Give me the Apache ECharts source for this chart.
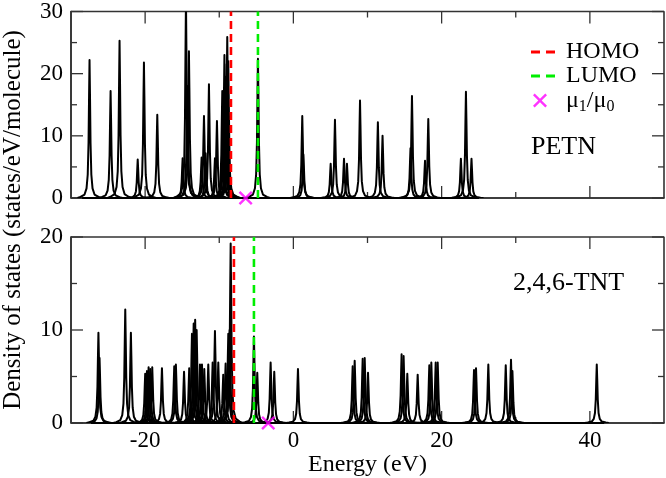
<!DOCTYPE html>
<html>
<head>
<meta charset="utf-8">
<script src="https://cdn.jsdelivr.net/npm/echarts@6/dist/echarts.min.js"></script>
<style>
html,body{margin:0;padding:0;background:#fff;}
#chart{width:666px;height:478px;}
</style>
</head>
<body>
<div id="chart"></div>
<script>
// ---- data ----
const energyMin = -30, energyMax = 50;
const xTickValues = [-20, 0, 20, 40];
const xMinorTickValues = [-10, 10, 30];
const topYTicks = [0, 10, 20, 30];
const topYMinor = [5, 15, 25];
const bottomYTicks = [0, 10, 20];
const bottomYMinor = [5, 15];

// PETN DOS peaks (eV, states/eV/molecule)
const petnPeakEnergy = [-27.5, -24.66, -23.45, -21.0, -20.16, -18.36, -14.94, -14.49, -14.3, -14.09,
  -12.38, -12.06, -11.84, -11.39, -10.58, -10.31, -9.59, -9.45, -9.30, -9.12, -9.0, -8.92, -8.78,
  -4.78, 1.2, 1.35, 5.03, 5.61, 6.83, 7.23, 8.99, 11.4, 12.03, 15.8, 16.0, 17.76, 18.2, 22.6, 23.28, 24.03];
const petnPeakHeight = [22.2, 17.2, 25.3, 6.2, 21.8, 13.4, 6.4, 32, 18, 23.6,
  6.5, 13.2, 7.2, 18.3, 6.4, 12.4, 17.2, 16.5, 23.0, 19.5, 21.5, 25.9, 22.0,
  22.4, 13.2, 7.0, 5.5, 12.6, 6.3, 5.5, 15.7, 12.2, 10.0, 8.0, 16.4, 6.0, 12.7, 6.3, 17.1, 6.3];

// 2,4,6-TNT DOS peaks
const tntPeakEnergy = [-26.3, -26.15, -22.68, -21.92, -19.99, -19.75, -19.53, -19.31, -19.04, -17.73,
  -16.07, -15.85, -14.75, -14.05, -13.68, -13.45, -13.25, -13.05, -12.6, -12.33, -12.02, -11.48,
  -10.89, -10.58, -10.13, -9.46, -9.14, -8.78, -8.6, -8.46, -5.32, -4.87, -3.07, -2.58, 0.62,
  8.0, 8.27, 9.35, 9.62, 10.07, 14.6, 14.87, 15.37, 16.77, 18.34, 18.61, 19.2, 19.47,
  24.37, 24.64, 26.3, 28.65, 29.36, 29.55, 40.93];
const tntPeakHeight = [9.7, 7.0, 12.2, 9.7, 5.3, 5.6, 6.0, 5.8, 6.0, 5.9,
  6.1, 6.3, 5.5, 5.9, 9.6, 10.7, 11.1, 10.0, 6.3, 6.3, 5.8, 6.3,
  6.5, 9.9, 6.5, 5.2, 6.4, 9.6, 10.0, 19.3, 9.3, 5.4, 6.5, 5.5, 5.8,
  6.1, 6.7, 6.9, 7.0, 5.4, 7.4, 7.2, 5.3, 5.2, 6.2, 6.5, 6.5, 6.5,
  5.7, 5.9, 6.3, 6.2, 6.8, 5.6, 6.3];

const homoEnergy = [-8.42, -8.02];   // PETN, TNT
const lumoEnergy = [-4.78, -5.32];
const muEnergy = [-6.44, -3.39];
const panelLabels = ['PETN', '2,4,6-TNT'];

// ---- chart ----
const FONT = 'Liberation Serif';
const frameColor = '#333';
const grids = [
  {left: 71, right: 2, top: 8, height: 190},
  {left: 71, right: 2, top: 237, height: 189}
];
const yMaxes = [30, 20];
const yMajors = [topYTicks, bottomYTicks];
const yMinors = [topYMinor, bottomYMinor];

const xAxes = [], yAxes = [];
grids.forEach((g, gi) => {
  xAxes.push({gridIndex: gi, type: 'value', min: energyMin, max: energyMax, splitLine: {show: false},
    position: 'bottom',
    axisLine: {show: true, onZero: false, lineStyle: {color: frameColor, width: 1.6}},
    axisTick: {show: false},
    axisLabel: {show: gi === 1, customValues: xTickValues, fontFamily: FONT, fontSize: 23, color: '#000', margin: 6},
    name: gi === 1 ? 'Energy (eV)' : '',
    nameLocation: 'middle', nameGap: 30,
    nameTextStyle: {fontFamily: FONT, fontSize: 24, color: '#000'}
  });
  yAxes.push({gridIndex: gi, type: 'value', min: 0, max: yMaxes[gi], splitLine: {show: false},
    position: 'left',
    axisLine: {show: true, onZero: false, lineStyle: {color: frameColor, width: 1.6}},
    axisTick: {show: false},
    axisLabel: {show: true, customValues: yMajors[gi], fontFamily: FONT, fontSize: 23, color: '#000', margin: 8}});
});

// peak glyph: shape of one broadened level, in pixels (style only)
const spikeShape = [[-9,0.008],[-5,0.025],[-3,0.07],[-1.8,0.17],[-1,0.4],[-0.45,0.75],[0,1],
  [0.45,0.75],[1,0.4],[1.8,0.17],[3,0.07],[5,0.025],[9,0.008]];
function renderSpike(params, api) {
  const e = api.value(0), h = api.value(1);
  const top = api.coord([e, h]);
  const base = api.coord([e, 0]);
  const H = base[1] - top[1];
  const pts = [[base[0] - 12, base[1]]];
  spikeShape.forEach(p => pts.push([base[0] + p[0], base[1] - p[1] * H]));
  pts.push([base[0] + 12, base[1]]);
  return {type: 'polyline', shape: {points: pts},
    style: {stroke: '#000', lineWidth: 2, fill: null, lineJoin: 'round'}};
}
// inward ticks on both sides, positioned through the axes' own scales
function xTickRenderer(gi) {
  return function (params, api) {
    const v = api.value(0), len = api.value(1);
    const b = api.coord([v, 0]);
    const t = api.coord([v, yMaxes[gi]]);
    const st = {stroke: frameColor, lineWidth: 1.3};
    return {type: 'group', children: [
      {type: 'line', shape: {x1: b[0], y1: b[1], x2: b[0], y2: b[1] - len}, style: st},
      {type: 'line', shape: {x1: t[0], y1: t[1], x2: t[0], y2: t[1] + len}, style: st}
    ]};
  };
}
function yTickRender(params, api) {
  const v = api.value(0), len = api.value(1);
  const l = api.coord([energyMin, v]);
  const r = api.coord([energyMax, v]);
  const st = {stroke: frameColor, lineWidth: 1.3};
  return {type: 'group', children: [
    {type: 'line', shape: {x1: l[0], y1: l[1], x2: l[0] + len, y2: l[1]}, style: st},
    {type: 'line', shape: {x1: r[0], y1: r[1], x2: r[0] - len, y2: r[1]}, style: st}
  ]};
}

const xPath = 'path://M0,1.2 L1.2,0 L5,3.8 L8.8,0 L10,1.2 L6.2,5 L10,8.8 L8.8,10 L5,6.2 L1.2,10 L0,8.8 L3.8,5 Z';
const dashPath = 'path://M0,0 L9,0 L9,3 L0,3 Z M15,0 L24,0 L24,3 L15,3 Z';

const series = [];
const peakSets = [[petnPeakEnergy, petnPeakHeight], [tntPeakEnergy, tntPeakHeight]];
grids.forEach((g, gi) => {
  const xi = gi, yi = gi;
  const E = peakSets[gi][0], Hh = peakSets[gi][1];
  const ym = yMaxes[gi];
  // plot frame
  series.push({
    type: 'line', xAxisIndex: xi, yAxisIndex: yi, silent: true, symbol: 'none', clip: false, z: 1,
    data: [[energyMin, 0], [energyMax, 0], [energyMax, ym], [energyMin, ym], [energyMin, 0]],
    lineStyle: {color: frameColor, width: 1.6}
  });
  series.push({
    type: 'custom', xAxisIndex: xi, yAxisIndex: yi, silent: true, clip: false, z: 1,
    renderItem: xTickRenderer(gi),
    data: xTickValues.map(v => [v, 12]).concat(xMinorTickValues.map(v => [v, 6]))
  });
  series.push({
    type: 'custom', xAxisIndex: xi, yAxisIndex: yi, silent: true, clip: false, z: 1,
    renderItem: yTickRender,
    data: yMajors[gi].map(v => [v, 12]).concat(yMinors[gi].map(v => [v, 6]))
  });
  series.push({
    type: 'line', xAxisIndex: xi, yAxisIndex: yi, silent: true, symbol: 'none', z: 3,
    data: [[Math.min(...E) - 1, 0], [Math.max(...E) + 1, 0]],
    lineStyle: {color: '#000', width: 2}
  });
  series.push({
    type: 'custom', xAxisIndex: xi, yAxisIndex: yi, clip: true, z: 4,
    renderItem: renderSpike,
    encode: {x: 0, y: 1},
    data: E.map((e, i) => [e, Hh[i]])
  });
  series.push({
    name: 'HOMO', type: 'line', xAxisIndex: xi, yAxisIndex: yi, symbol: 'none', z: 6,
    itemStyle: {color: '#ff0000'},
    lineStyle: {color: '#ff0000', width: 2.6, type: [8, 5]},
    data: [[homoEnergy[gi], 0], [homoEnergy[gi], ym]]
  });
  series.push({
    name: 'LUMO', type: 'line', xAxisIndex: xi, yAxisIndex: yi, symbol: 'none', z: 6,
    itemStyle: {color: '#00ee00'},
    lineStyle: {color: '#00ee00', width: 2.6, type: [8, 5]},
    data: [[lumoEnergy[gi], 0], [lumoEnergy[gi], ym]]
  });
  series.push({
    name: 'μ1/μ0', type: 'scatter', xAxisIndex: xi, yAxisIndex: yi, z: 7,
    symbol: xPath, symbolSize: 14, clip: false,
    itemStyle: {color: '#ff00ff'},
    data: [[muEnergy[gi], 0]]
  });
});

const legendText = {fontFamily: FONT, fontSize: 24, color: '#000', padding: [0, 0, 0, 6]};
const chart = echarts.init(document.getElementById('chart'));
chart.setOption({
  animation: false,
  grid: grids,
  xAxis: xAxes,
  yAxis: yAxes,
  legend: [{
    data: [{name: 'HOMO', icon: dashPath}, {name: 'LUMO', icon: dashPath}],
    orient: 'vertical', left: 526, top: 35,
    itemWidth: 24, itemHeight: 3, itemGap: 0,
    selectedMode: false,
    textStyle: Object.assign({lineHeight: 22}, legendText)
  }, {
    data: ['μ1/μ0'],
    orient: 'vertical', left: 528, top: 81,
    itemWidth: 14, itemHeight: 14,
    selectedMode: false,
    textStyle: Object.assign({}, legendText, {padding: [0, 0, 0, 14],
      rich: {
        n: {fontFamily: FONT, fontSize: 24, color: '#000', lineHeight: 26},
        s: {fontFamily: FONT, fontSize: 16, color: '#000', lineHeight: 26, padding: [13, 0, 0, 0]}
      }}),
    formatter: function () { return '{n|μ}{s|1}{n|/μ}{s|0}'; }
  }],
  graphic: [
    {type: 'text', left: 531, top: 134, z: 10,
      style: {text: panelLabels[0], fontFamily: FONT, fontSize: 26, fill: '#000'}},
    {type: 'text', left: 513, top: 270, z: 10,
      style: {text: panelLabels[1], fontFamily: FONT, fontSize: 26, fill: '#000'}},
    {type: 'text', x: 13, y: 220, rotation: Math.PI / 2, z: 10,
      style: {text: 'Density of states (states/eV/molecule)', fontFamily: FONT, fontSize: 25, fill: '#000',
        align: 'center', verticalAlign: 'middle'}}
  ],
  series: series
});
</script>
</body>
</html>
